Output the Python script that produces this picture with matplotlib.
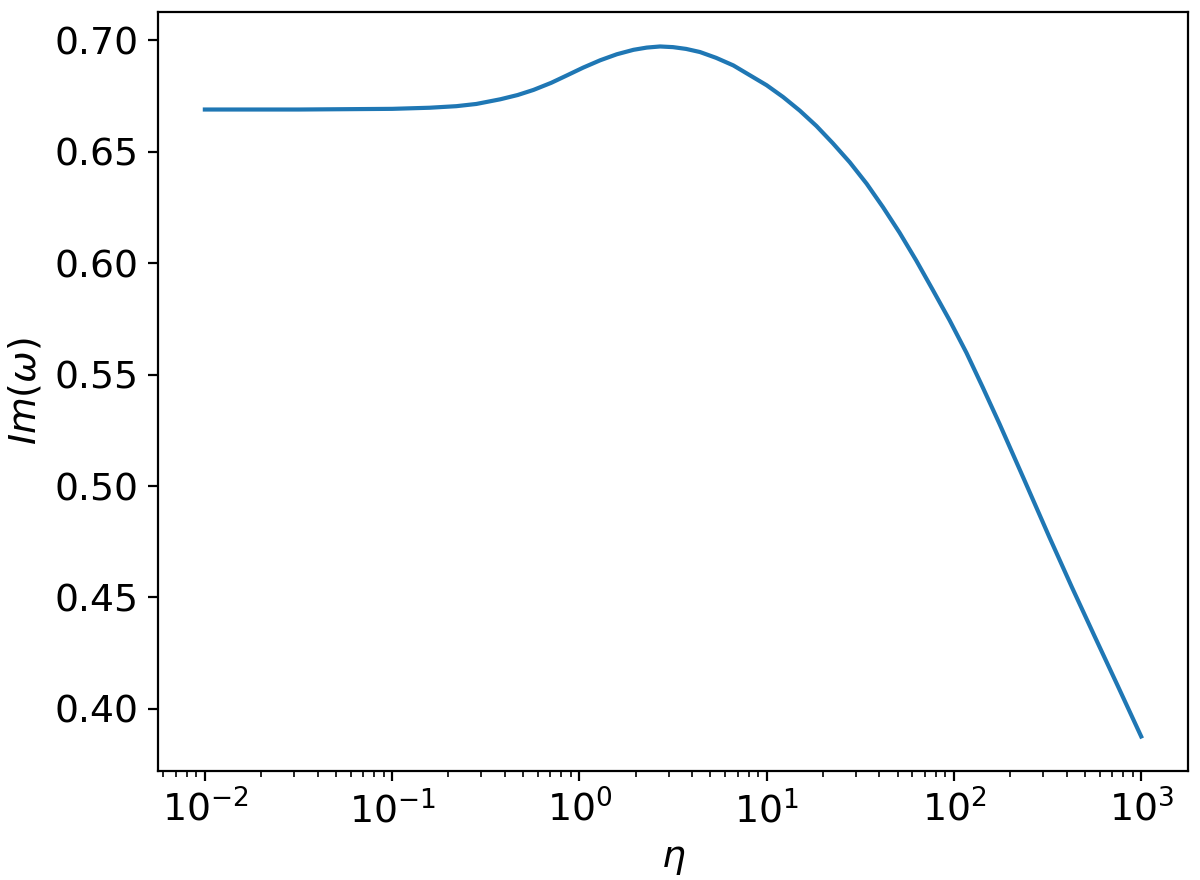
import matplotlib
matplotlib.use("Agg")
import matplotlib.pyplot as plt
import numpy as np

# values (log10 of eta, Im(omega))
log_eta = [-2.0, -1.5, -1.0, -0.8, -0.657, -0.55, -0.422, -0.33, -0.245, -0.15,
           -0.067, 0.02, 0.111, 0.2, 0.289, 0.36, 0.431, 0.5, 0.57, 0.644,
           0.73, 0.822, 0.91, 1.0, 1.088, 1.177, 1.266, 1.353, 1.444, 1.534,
           1.621, 1.71, 1.799, 1.886, 1.977, 2.067, 2.154, 2.243, 2.375, 2.509,
           2.63, 2.75, 2.875, 3.0]
im_omega = [0.6690, 0.6690, 0.6693, 0.6698, 0.6705, 0.6715, 0.6736, 0.6755, 0.6778, 0.6810,
            0.6843, 0.6878, 0.6911, 0.6938, 0.6958, 0.6968, 0.6973, 0.6970, 0.6962, 0.6948,
            0.6922, 0.6888, 0.6844, 0.6799, 0.6746, 0.6685, 0.6616, 0.6539, 0.6453, 0.6357,
            0.6252, 0.6137, 0.6012, 0.5882, 0.5744, 0.5598, 0.5443, 0.5280, 0.5029, 0.4772,
            0.4546, 0.4328, 0.4103, 0.3876]

eta = 10.0 ** np.array(log_eta)

plt.rcParams['font.size'] = 13.6

fig = plt.figure(figsize=(6, 4.4), dpi=200)
ax = fig.add_axes([0.1317, 0.1239, 0.8583, 0.8625])
ax.plot(eta, im_omega, linewidth=1.5)
ax.set_xscale('log')
ax.set_xlabel(r'$\eta$')
ax.set_ylabel(r'$Im(\omega)$')

fig.savefig("out.png", dpi=200)
